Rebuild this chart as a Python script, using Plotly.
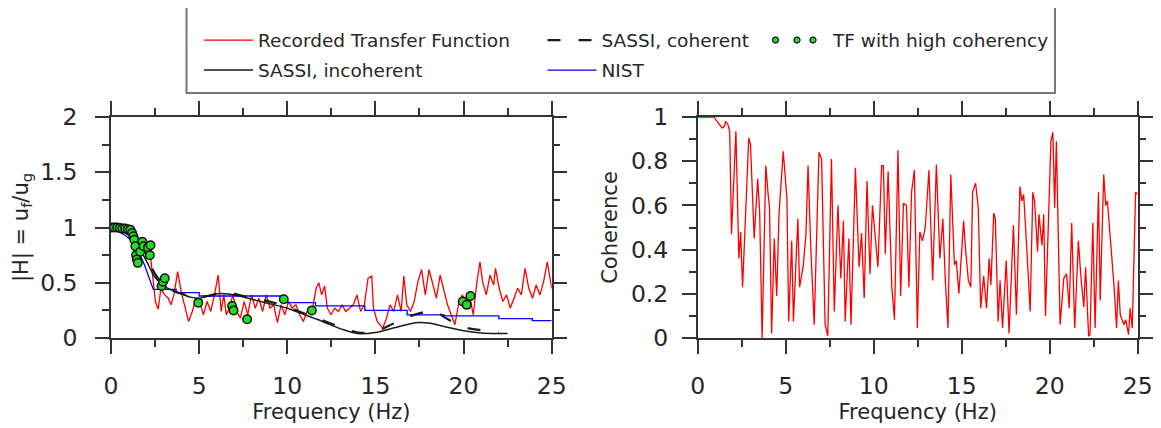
import plotly.graph_objects as go

# ---------------- data ----------------
# Left panel: recorded transfer function |H|
tf_freq = [0, 0.4, 0.8, 1.1, 1.25, 1.35, 1.45, 1.55, 1.7, 1.85, 2.0, 2.2, 2.52, 2.68, 2.83, 3.04,
           3.25, 3.40, 3.57, 3.78, 3.98, 4.19, 4.40, 4.61, 4.82, 5.03, 5.24, 5.45, 5.66, 5.87,
           6.08, 6.25, 6.40, 6.54, 6.71, 6.92, 7.13, 7.34, 7.55, 7.76, 7.97, 8.18, 8.39, 8.60,
           8.81, 9.02, 9.23, 9.44, 9.65, 9.86, 10.07, 10.28, 10.49, 10.70, 10.91, 11.12, 11.43,
           11.64, 11.79, 11.95, 12.12, 12.27, 12.48, 12.69, 12.90, 13.11, 13.32, 13.53, 13.74,
           13.95, 14.16, 14.37, 14.58, 14.79, 14.89, 15.10, 15.42, 15.63, 15.83, 16.04, 16.25,
           16.46, 16.61, 16.78, 16.99, 17.20, 17.41, 17.62, 17.83, 18.04, 18.25, 18.46, 18.67,
           18.88, 19.09, 19.30, 19.51, 19.71, 19.92, 20.13, 20.34, 20.55, 20.76, 20.93, 21.08,
           21.29, 21.50, 21.71, 21.81, 22.02, 22.23, 22.44, 22.65, 22.86, 23.07, 23.28, 23.49,
           23.70, 23.91, 24.12, 24.33, 24.54, 24.75, 25.0]
tf_amp = [1.0, 1.0, 0.99, 0.97, 0.93, 0.85, 0.74, 0.70, 0.78, 0.86, 0.76, 0.80, 0.33, 0.26, 0.45, 0.39,
          0.36, 0.30, 0.39, 0.60, 0.42, 0.27, 0.15, 0.24, 0.36, 0.33, 0.21, 0.33, 0.24, 0.39,
          0.57, 0.24, 0.39, 0.21, 0.27, 0.39, 0.24, 0.18, 0.33, 0.21, 0.39, 0.27, 0.36, 0.24,
          0.39, 0.27, 0.30, 0.14, 0.30, 0.21, 0.33, 0.27, 0.30, 0.21, 0.15, 0.24, 0.27,
          0.45, 0.50, 0.39, 0.47, 0.27, 0.21, 0.27, 0.24, 0.30, 0.24, 0.27, 0.30,
          0.39, 0.24, 0.30, 0.54, 0.56, 0.27, 0.15, 0.09, 0.18, 0.30, 0.24, 0.39,
          0.24, 0.56, 0.30, 0.24, 0.33, 0.51, 0.62, 0.39, 0.62, 0.48, 0.36, 0.57,
          0.42, 0.30, 0.21, 0.12, 0.30, 0.39, 0.33, 0.39, 0.21, 0.51, 0.69, 0.51,
          0.39, 0.57, 0.48, 0.63, 0.45, 0.33, 0.39, 0.27, 0.36, 0.45, 0.39, 0.63,
          0.45, 0.36, 0.48, 0.39, 0.51, 0.69, 0.45]

# SASSI, incoherent
inc_freq = [0, 0.5, 1.0, 1.5, 2.0, 2.5, 3.0, 3.5, 4.0, 4.5, 5.0, 5.5, 6.0, 6.5, 7.0, 7.5, 8, 9, 10,
            11, 12, 13, 14, 15, 16, 17, 17.5, 18, 19, 20, 21, 22, 22.5]
inc_amp = [1.0, 0.98, 0.93, 0.84, 0.70, 0.55, 0.47, 0.43, 0.40, 0.37, 0.36, 0.38, 0.40, 0.40, 0.39,
           0.37, 0.35, 0.31, 0.27, 0.21, 0.15, 0.085, 0.04, 0.05, 0.09, 0.13, 0.14, 0.135, 0.10,
           0.065, 0.045, 0.04, 0.04]

# SASSI, coherent
coh_sassi_freq = [0, 0.5, 1, 1.5, 2, 2.5, 3, 3.5, 4, 4.5, 5, 5.5, 6, 6.5, 7, 7.5, 8, 9, 10, 11, 12,
                  13, 14, 15, 16, 17, 18, 18.5, 19, 20, 21, 22]
coh_sassi_amp = [1.0, 0.99, 0.95, 0.87, 0.74, 0.58, 0.48, 0.43, 0.40, 0.38, 0.37, 0.38, 0.40, 0.41,
                 0.40, 0.38, 0.36, 0.33, 0.28, 0.22, 0.16, 0.10, 0.05, 0.06, 0.13, 0.20, 0.24, 0.23,
                 0.18, 0.10, 0.07, 0.05]

# NIST
nist_freq = [0, 0.8, 1.4, 1.9, 2.4, 3.7, 3.7, 5.0, 5.0, 9.9, 9.9, 11.6, 11.6, 14.4, 14.4, 16.8,
             16.8, 18.9, 18.9, 22.0, 22.0, 23.9, 23.9, 25.0]
nist_amp = [1.0, 0.93, 0.85, 0.66, 0.44, 0.44, 0.41, 0.41, 0.38, 0.38, 0.32, 0.32, 0.29, 0.29, 0.25,
            0.25, 0.21, 0.21, 0.20, 0.20, 0.175, 0.175, 0.157, 0.157]

# TF with high coherency
hc_freq = [0.05, 0.2, 0.35, 0.5, 0.65, 0.8, 0.95, 1.1, 1.2, 1.27, 1.32, 1.38, 1.42, 1.47, 1.52, 1.66,
           1.78, 1.85, 2.1, 2.2, 2.24, 2.87, 2.95, 3.05, 4.95, 6.87, 6.95, 7.72, 9.8, 11.39, 19.95,
           20.18, 20.39]
hc_amp = [1.0, 1.0, 1.0, 0.995, 0.99, 0.99, 0.985, 0.98, 0.95, 0.92, 0.89, 0.83, 0.75, 0.71, 0.68,
          0.78, 0.87, 0.83, 0.82, 0.75, 0.84, 0.47, 0.51, 0.54, 0.32, 0.29, 0.25, 0.17, 0.35, 0.25,
          0.33, 0.30, 0.38]

# Right panel: coherence
c_freq = [0, 0.93, 1.03, 1.24, 1.39, 1.51, 1.59, 1.72, 1.82, 1.92, 2.17, 2.34, 2.44, 2.55, 2.90, 3.0,
          3.21, 3.41, 3.52, 3.66, 3.87, 3.99, 4.08, 4.20, 4.35, 4.49, 4.62, 4.86, 5.07, 5.17, 5.34,
          5.44, 5.69, 5.79, 6.0, 6.15, 6.27, 6.42, 6.62, 6.89, 7.04, 7.24, 7.39, 7.60, 7.76, 7.97,
          8.13, 8.28, 8.38, 8.59, 8.71, 8.96, 9.17, 9.31, 9.46, 9.62, 9.79, 9.93, 10.08, 10.24,
          10.45, 10.55, 10.66, 10.82, 11.03, 11.18, 11.38, 11.53, 11.69, 11.86, 12.0, 12.15, 12.31,
          12.48, 12.62, 12.77, 12.93, 13.14, 13.35, 13.56, 13.76, 13.93, 14.07, 14.22, 14.38,
          14.59, 14.69, 14.84, 15.11, 15.21, 15.38, 15.52, 15.62, 15.79, 15.94, 16.08, 16.25,
          16.41, 16.56, 16.66, 16.82, 16.91, 17.07, 17.18, 17.32, 17.53, 17.69, 17.80, 17.94,
          18.11, 18.31, 18.42, 18.52, 18.73, 18.89, 19.04, 19.14, 19.31, 19.39, 19.56, 19.66,
          19.76, 19.93, 20.07, 20.18, 20.28, 20.38, 20.59, 20.80, 20.96, 21.11, 21.25, 21.42,
          21.63, 21.79, 21.94, 22.04, 22.21, 22.29, 22.45, 22.58, 22.77, 22.87, 23.07, 23.18,
          23.28, 23.65, 23.80, 23.90, 24.01, 24.21, 24.32, 24.48, 24.57, 24.69, 24.88, 25.0]
c_val = [1.0, 1.0, 0.988, 0.965, 0.95, 0.958, 0.98, 0.965, 0.935, 0.47, 0.935, 0.36, 0.48, 0.23, 0.905,
         0.875, 0.45, 0.72, 0.57, 0.0, 0.78, 0.66, 0.59, 0.02, 0.45, 0.19, 0.56, 0.845, 0.63, 0.075,
         0.44, 0.075, 0.54, 0.23, 0.33, 0.47, 0.78, 0.42, 0.06, 0.84, 0.81, 0.06, 0.01, 0.81, 0.12,
         0.60, 0.27, 0.53, 0.075, 0.45, 0.06, 0.77, 0.32, 0.475, 0.18, 0.71, 0.29, 0.60, 0.45, 0.32,
         0.78, 0.78, 0.38, 0.755, 0.23, 0.083, 0.85, 0.19, 0.61, 0.60, 0.23, 0.66, 0.76,
         0.045, 0.48, 0.44, 0.50, 0.76, 0.26, 0.785, 0.36, 0.54, 0.26, 0.045, 0.74,
         0.33, 0.35, 0.20, 0.53, 0.41, 0.26, 0.23, 0.66, 0.70, 0.59, 0.135, 0.28,
         0.135, 0.36, 0.24, 0.565, 0.54, 0.075, 0.26, 0.045, 0.35, 0.02, 0.26, 0.51,
         0.105, 0.685, 0.62, 0.65, 0.36, 0.12, 0.66, 0.62, 0.39, 0.56, 0.42, 0.56,
         0.10, 0.53, 0.89, 0.93, 0.59, 0.89, 0.06, 0.27, 0.29, 0.135, 0.52, 0.045,
         0.44, 0.26, 0.14, 0.32, 0.008, 0.015, 0.52, 0.045, 0.66, 0.17, 0.74, 0.60,
         0.62, 0.24, 0.045, 0.26, 0.105, 0.06, 0.083, 0.015, 0.135, 0.045, 0.66, 0.65]

# ---------------- figure ----------------
W, H = 1161, 428
OFF = 8  # the page body adds an 8 px margin around the plot div
FONT = "DejaVu Sans"
TXT = "#262626"
AX = "#333333"
GREEN = "#22dd22"

fig = go.Figure()

fig.add_trace(go.Scatter(x=tf_freq, y=tf_amp, mode="lines", name="Recorded Transfer Function",
                         line=dict(color="#ff0000", width=1.3), legend="legend"))
fig.add_trace(go.Scatter(x=nist_freq, y=nist_amp, mode="lines", name="NIST",
                         line=dict(color="#0000ff", width=1.3), legend="legend4"))
fig.add_trace(go.Scatter(x=inc_freq, y=inc_amp, mode="lines", name="SASSI, incoherent",
                         line=dict(color="#1a1a1a", width=1.5, shape="spline"), legend="legend2"))
fig.add_trace(go.Scatter(x=coh_sassi_freq, y=coh_sassi_amp, mode="lines", name="SASSI, coherent",
                         line=dict(color="#1a1a1a", width=2.2, dash="13px,18px", shape="spline"),
                         legend="legend3"))
fig.add_trace(go.Scatter(x=hc_freq, y=hc_amp, mode="markers", name="TF with high coherency",
                         marker=dict(color=GREEN, size=8.5, line=dict(color="#111", width=1.5)),
                         showlegend=False))
# legend-only dots (three dot legend sample)
for nm, lg in [("TF with high coherency", "legend5"), (" ", "legend6"), (" ", "legend7")]:
    fig.add_trace(go.Scatter(x=[None], y=[None], mode="markers", name=nm, legend=lg,
                             marker=dict(color=GREEN, size=6, line=dict(color="#111", width=1.2))))

fig.add_trace(go.Scatter(x=c_freq, y=c_val, mode="lines", name="Coherence", showlegend=False,
                         line=dict(color="#ff0000", width=1.3), xaxis="x2", yaxis="y2"))


def px_x(p):
    return (p - OFF) / W


def px_y(p):
    return 1 - (p - OFF) / H


y_dom = [px_y(338), px_y(117)]


def axis(dom, rng, dtick, minor_dtick, title, standoff, anchor, lab_standoff):
    return dict(
        domain=dom, range=rng, anchor=anchor, dtick=dtick, tick0=0,
        showline=True, linecolor=AX, linewidth=1.5, mirror="allticks",
        ticks="outside", ticklen=14, tickwidth=1.5, tickcolor=AX,
        minor=dict(ticks="outside", ticklen=7, tickwidth=1.5, tickcolor=AX, dtick=minor_dtick,
                   tick0=0, showgrid=False),
        showgrid=False, zeroline=False, automargin=False,
        tickfont=dict(family=FONT, size=23.5, color=TXT),
        ticklabelstandoff=lab_standoff,
        title=dict(text=title, font=dict(family=FONT, size=21, color=TXT), standoff=standoff),
    )


fig.update_layout(
    width=W, height=H, autosize=False,
    margin=dict(l=0, r=0, t=0, b=0, autoexpand=False),
    paper_bgcolor="white", plot_bgcolor="white",
    font=dict(family=FONT, color=TXT),
    xaxis=axis([px_x(111), px_x(551.7)], [0, 25], 5, 2.5, "Frequency (Hz)", 5, "y", 12),
    yaxis=axis(y_dom, [0, 2], 0.5, 0.25, "|H| = u<sub>f</sub>/u<sub>g</sub>", 6, "x", 13),
    xaxis2=axis([px_x(697.7), px_x(1137.7)], [0, 25], 5, 2.5, "Frequency (Hz)", 5, "y2", 12),
    yaxis2=axis(y_dom, [0, 1], 0.2, 0.1, "Coherence", 8, "x2", 9),
    shapes=[dict(type="rect", xref="paper", yref="paper",
                 x0=px_x(186.5), x1=px_x(1055), y0=px_y(93), y1=px_y(4.5),
                 line=dict(color="#777777", width=2), fillcolor="rgba(0,0,0,0)", layer="above")],
)

leg_common = dict(bgcolor="rgba(0,0,0,0)", borderwidth=0, xanchor="left", yanchor="top",
                  font=dict(family=FONT, size=18.5, color=TXT))
fig.update_layout(
    legend=dict(x=px_x(199), y=px_y(21.5), itemwidth=49, **leg_common),
    legend2=dict(x=px_x(199), y=px_y(51.5), itemwidth=49, **leg_common),
    legend3=dict(x=px_x(542.5), y=px_y(21.5), itemwidth=49, **leg_common),
    legend4=dict(x=px_x(542.5), y=px_y(51.5), itemwidth=49, **leg_common),
    legend5=dict(x=px_x(793), y=px_y(21.5), itemwidth=30, **leg_common),
    legend6=dict(x=px_x(755.5), y=px_y(21.5), itemwidth=30, **leg_common),
    legend7=dict(x=px_x(777), y=px_y(21.5), itemwidth=30, **leg_common),
)

fig.write_html("out.html")
